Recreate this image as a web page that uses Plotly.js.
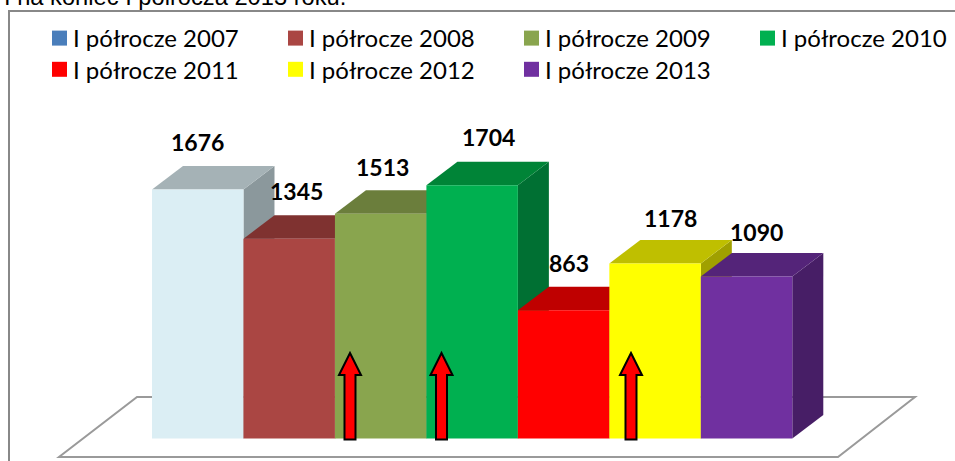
<!DOCTYPE html>
<html><head><meta charset="utf-8">
<script src="https://cdn.plot.ly/plotly-3.0.1.min.js"></script>
<style>html,body{margin:0;padding:0;background:#fff;overflow:hidden}
#c{width:955px;height:461px}
.legendsymbols{transform:translateX(6.5px)}</style>
</head><body><div id="c"></div>
<script>
var series = ['I półrocze 2007','I półrocze 2008','I półrocze 2009','I półrocze 2010','I półrocze 2011','I półrocze 2012','I półrocze 2013'];
var values = [1676,1345,1513,1704,863,1178,1090];
var legendColors = ['#4A7EBB','#AA4643','#89A54E','#00B050','#FF0000','#FFFF00','#7030A0'];
var frontColors = ['#DBEEF4','#AA4643','#89A54E','#00B050','#FF0000','#FFFF00','#7030A0'];
var topColors = ['#A5B2B6','#7F3230','#6B7E3C','#008437','#BF0000','#BFBF00','#542479'];
var sideColors = ['#8B989C','#6B2A28','#5A6A32','#007033','#A00000','#A0A000','#471E66'];
var labelShiftX = [0,7,2,16,5,15,10];
var labelShiftY = [24,24,23,25,24,22,21];
var arrowPositions = [350,441.5,631];

var W=955,H=461;
var pxPerCat=91.47, pxPerVal=0.1486, barLeft=152, base=438.5;
var depthX=31/pxPerCat, depthY=23.5/pxPerVal;
var xRange=[-0.5-barLeft/pxPerCat,(W-barLeft)/pxPerCat-0.5];
var yRange=[-(H-base)/pxPerVal,base/pxPerVal];
function px(x){return (x/W).toFixed(5);} function py(y){return (1-y/H).toFixed(5);}
function poly(pts){return 'M'+pts.map(function(p){return px(p[0])+','+py(p[1]);}).join('L')+'Z';}

var traces=[];
values.forEach(function(v,i){
  traces.push({type:'scatter',mode:'lines',line:{width:0},fill:'toself',fillcolor:sideColors[i],hoverinfo:'skip',showlegend:false,
    x:[i+.5,i+.5,i+.5+depthX,i+.5+depthX,i+.5],y:[0,v,v+depthY,depthY,0]});
  traces.push({type:'scatter',mode:'lines',line:{width:0},fill:'toself',fillcolor:topColors[i],hoverinfo:'skip',showlegend:false,
    x:[i-.5,i+.5,i+.5+depthX,i-.5+depthX,i-.5],y:[v,v,v+depthY,v+depthY,v]});
});
values.forEach(function(v,i){
  traces.push({type:'bar',x:[i],y:[v],width:1,xaxis:'x2',yaxis:'y2',marker:{color:frontColors[i]},showlegend:false,name:series[i]});
});
series.forEach(function(s,i){
  traces.push({type:'scatter',mode:'markers',x:[null],y:[null],name:s,marker:{symbol:'square',size:15,color:legendColors[i]},showlegend:true});
});

var annotations=values.map(function(v,i){
  return {xref:'x2',yref:'y2',x:i,y:v+depthY,text:String(v),showarrow:false,xshift:labelShiftX[i],yshift:labelShiftY[i],
    font:{family:'Lato, sans-serif',size:23,color:'#000',weight:700}};
});
annotations.push({xref:'paper',yref:'paper',x:px(3),y:py(5),xanchor:'left',yanchor:'bottom',yshift:-6,showarrow:false,
  text:'I na koniec I półrocza 2013 roku.',font:{family:'Liberation Sans, Arial',size:23.7,color:'#000'},borderpad:0});

var shapes=[
 {type:'path',layer:'below',xref:'paper',yref:'paper',path:poly([[137,397],[915,397],[838,457],[59,457]]),line:{color:'#9A9A9A',width:2},fillcolor:'#fff'},
 {type:'path',layer:'below',xref:'paper',yref:'paper',path:'M'+px(955)+','+py(11)+'L'+px(9)+','+py(11)+'L'+px(9)+','+py(461),line:{color:'#888',width:2}}
];
arrowPositions.forEach(function(a){
  shapes.push({type:'path',layer:'above',xref:'paper',yref:'paper',
    path:poly([[a,353],[a+11,375],[a+5.5,375],[a+5.5,439.5],[a-5.5,439.5],[a-5.5,375],[a-11,375]]),
    fillcolor:'#FF0000',line:{color:'#000',width:2}});
});

var ax={range:xRange,visible:false,fixedrange:true};
var ay={range:yRange,visible:false,fixedrange:true};
Plotly.newPlot('c',traces,{
  width:W,height:H,margin:{l:0,r:0,t:0,b:0},paper_bgcolor:'#fff',plot_bgcolor:'rgba(0,0,0,0)',
  xaxis:ax,yaxis:ay,
  xaxis2:Object.assign({},ax,{overlaying:'x'}),yaxis2:Object.assign({},ay,{overlaying:'y'}),
  barmode:'overlay',showlegend:true,
  legend:{orientation:'h',x:0,y:py(16),xanchor:'left',yanchor:'top',entrywidth:191,entrywidthmode:'pixels',
    font:{family:'Lato, sans-serif',size:24,color:'#000'},bgcolor:'rgba(0,0,0,0)',tracegroupgap:0,itemclick:false,itemdoubleclick:false},
  annotations:annotations,shapes:shapes
},{displayModeBar:false,staticPlot:true}).then(function(){
  function shift(el,dx,dy){
    var m=/translate\(\s*([-\d.]+)[ ,]+([-\d.]+)\s*\)/.exec(el.getAttribute('transform')||'');
    if(m) el.setAttribute('transform','translate('+(+m[1]+dx)+','+(+m[2]+dy)+')');
  }
  shift(document.querySelector('.legend'),33,0);
  document.querySelectorAll('.legend .traces').forEach(function(t,i){ if(i>=4) shift(t,0,-3); });
});
</script></body></html>
